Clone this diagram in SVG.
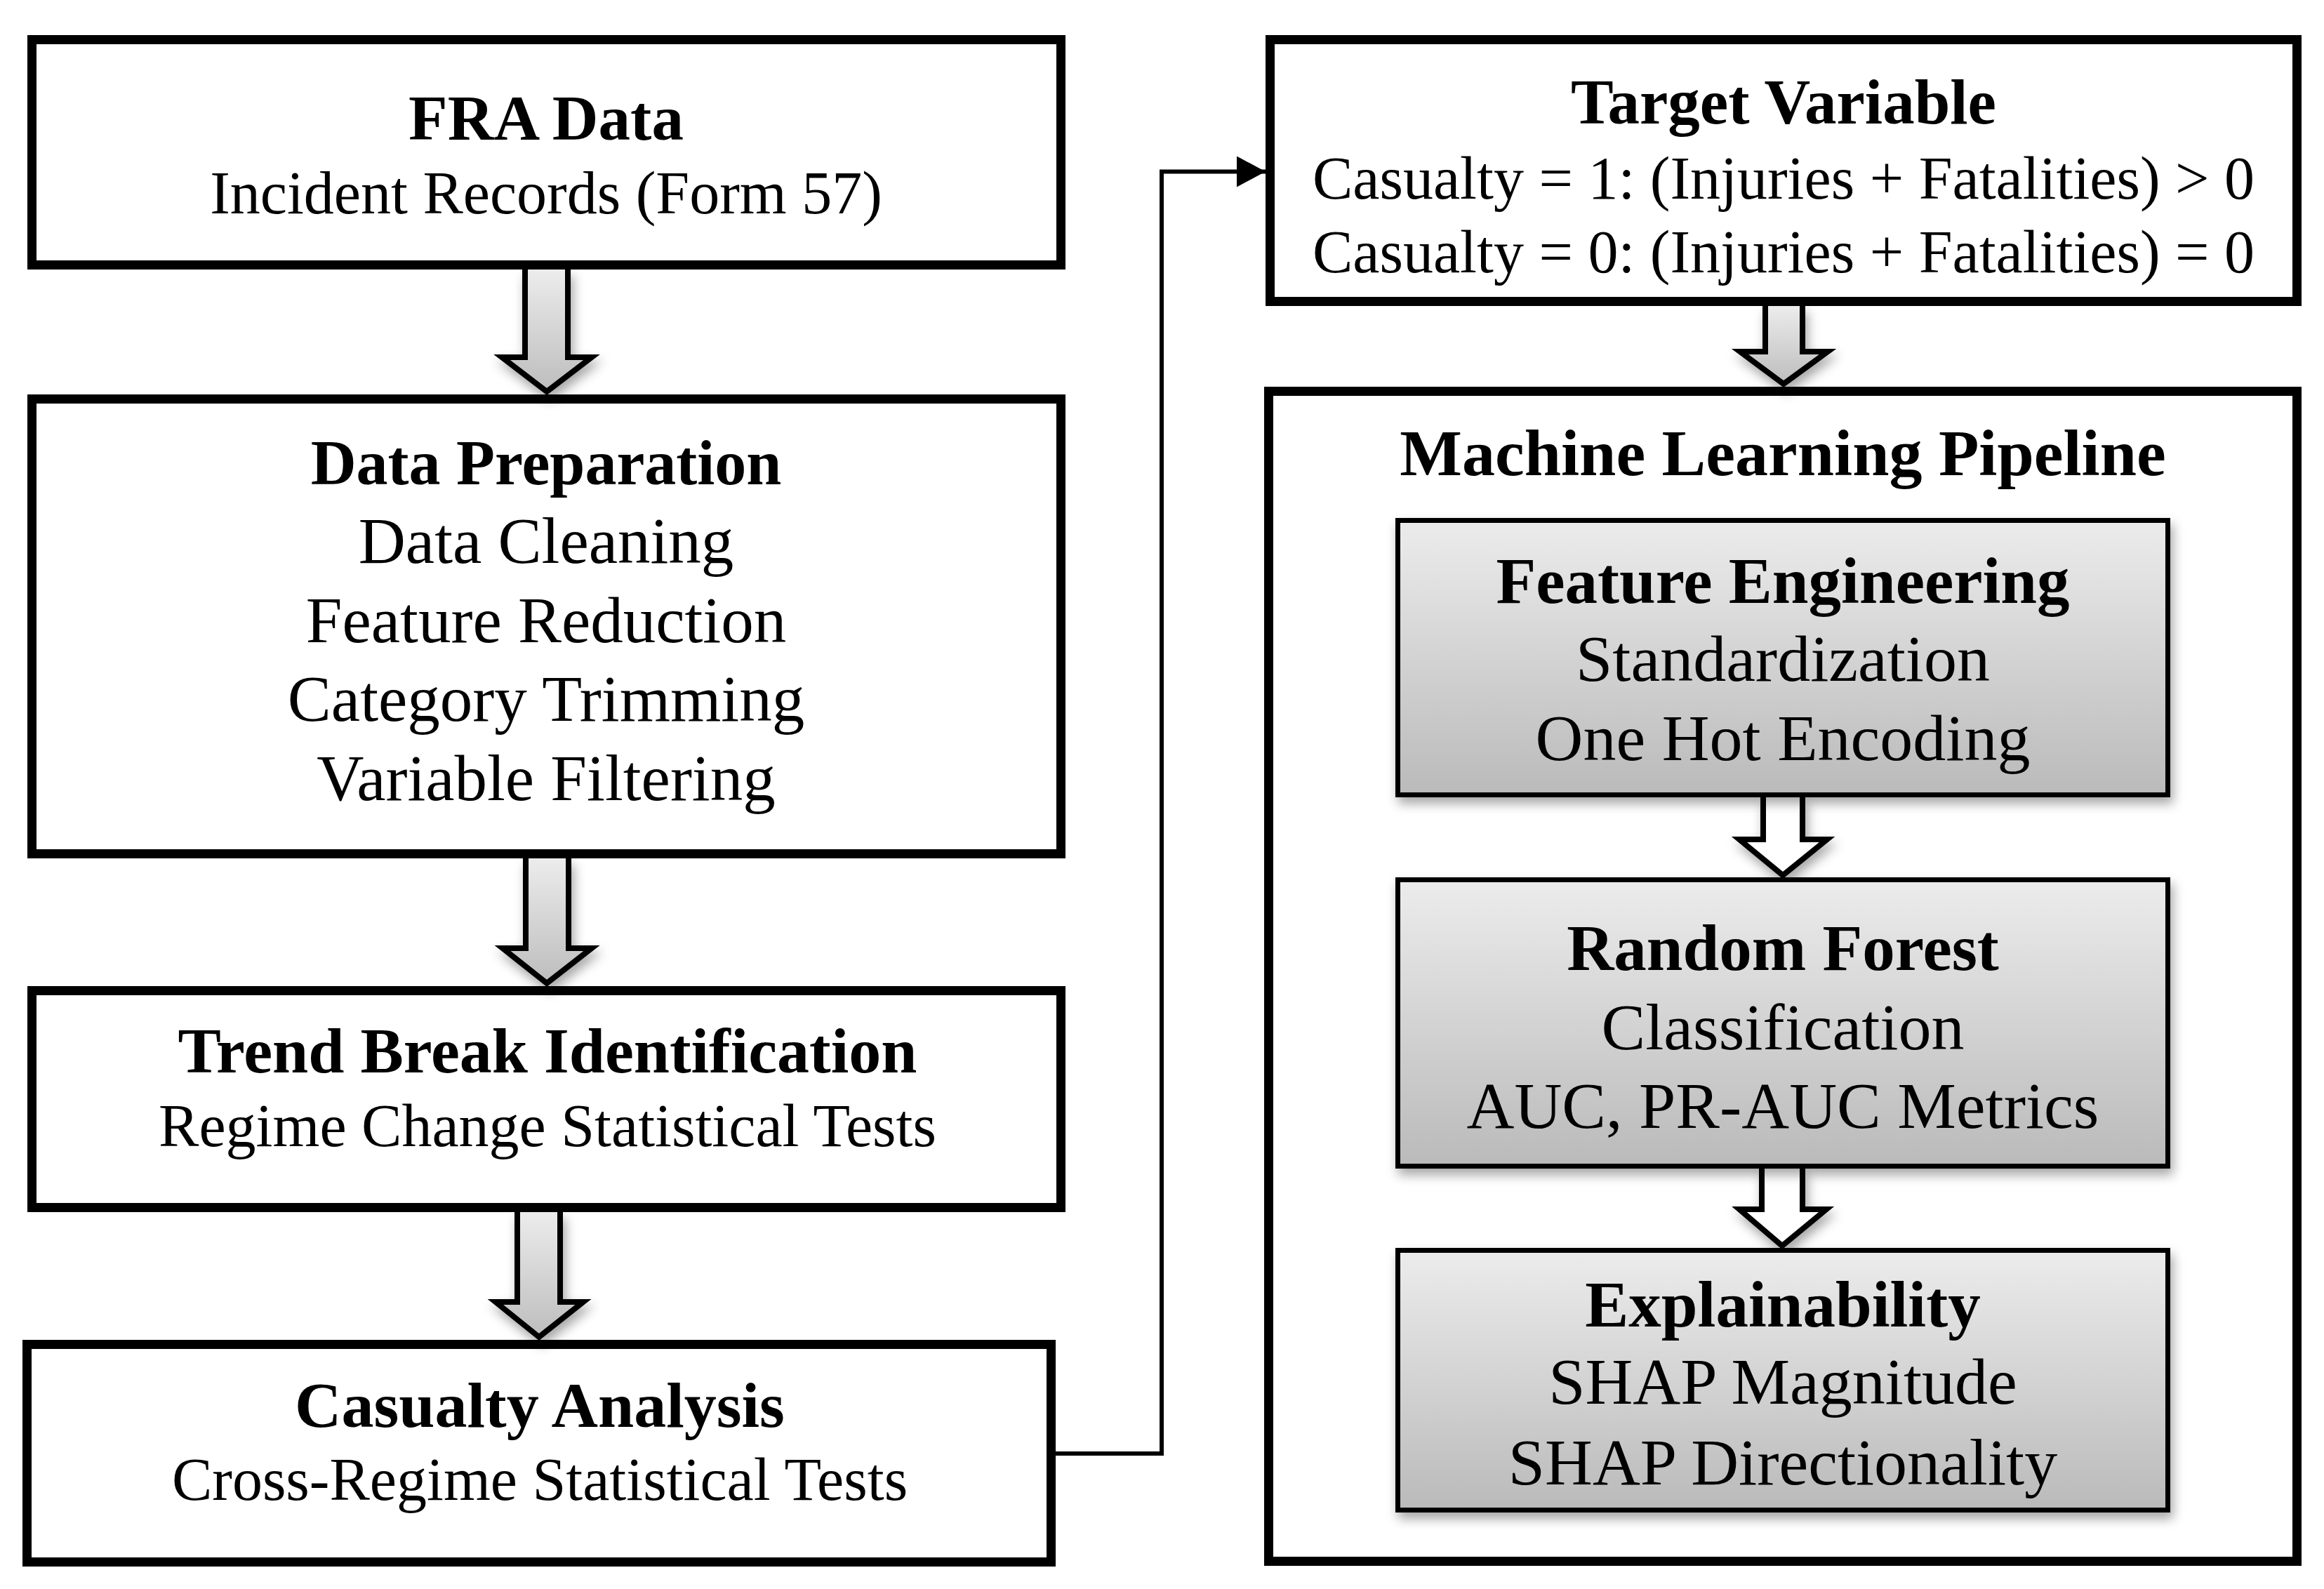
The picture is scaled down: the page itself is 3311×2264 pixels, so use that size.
<svg xmlns="http://www.w3.org/2000/svg" width="3311" height="2264" viewBox="0 0 3311 2264">
  <style>
    .box { fill: #ffffff; stroke: #000000; stroke-width: 13; }
    .sub { fill: url(#grayFill); stroke: #000000; stroke-width: 7; }
    .blk { fill: url(#arrowFill); stroke: #000000; stroke-width: 8; stroke-linejoin: miter; }
    .hol { fill: #ffffff; stroke: #000000; stroke-width: 8; stroke-linejoin: miter; }
    .link { fill: none; stroke: #000000; stroke-width: 6; }
    text { font-family: "Liberation Serif", "Times New Roman", serif; fill: #000000; text-anchor: middle; }
    .t { font-weight: bold; }
  </style>
  <defs>
    <linearGradient id="grayFill" x1="0" y1="0" x2="0" y2="1">
      <stop offset="0" stop-color="#ececec"/>
      <stop offset="1" stop-color="#bababa"/>
    </linearGradient>
    <linearGradient id="arrowFill" x1="0" y1="0" x2="0" y2="1">
      <stop offset="0" stop-color="#ececec"/>
      <stop offset="1" stop-color="#bdbdbd"/>
    </linearGradient>
    <filter id="shadow" x="-20%" y="-20%" width="140%" height="150%">
      <feDropShadow dx="4" dy="9" stdDeviation="8" flood-color="#000000" flood-opacity="0.35"/>
    </filter>
    <marker id="head" markerUnits="userSpaceOnUse" markerWidth="42" markerHeight="44" refX="41" refY="22" orient="auto">
      <path d="M0,0 L41,22 L0,44 Z" fill="#000000"/>
    </marker>
  </defs>

  <g id="fra-data">
    <rect class="box" x="45.5" y="56.5" width="1466" height="321"/>
    <text class="t" x="778" y="199" font-size="91">FRA Data</text>
    <text x="778" y="304" font-size="86">Incident Records (Form 57)</text>
  </g>

  <g id="data-preparation">
    <rect class="box" x="45.5" y="568.5" width="1466" height="648"/>
    <text class="t" x="778" y="690" font-size="90">Data Preparation</text>
    <text x="778" y="802" font-size="93">Data Cleaning</text>
    <text x="778" y="915" font-size="93">Feature Reduction</text>
    <text x="778" y="1027" font-size="93">Category Trimming</text>
    <text x="778" y="1140" font-size="93">Variable Filtering</text>
  </g>

  <g id="trend-break">
    <rect class="box" x="45.5" y="1411.5" width="1466" height="309"/>
    <text class="t" x="780" y="1528" font-size="92">Trend Break Identification</text>
    <text x="780" y="1633" font-size="86">Regime Change Statistical Tests</text>
  </g>

  <g id="casualty-analysis">
    <rect class="box" x="38.5" y="1915.5" width="1459" height="310"/>
    <text class="t" x="769" y="2033" font-size="92">Casualty Analysis</text>
    <text x="769" y="2137" font-size="86">Cross-Regime Statistical Tests</text>
  </g>

  <g id="target-variable">
    <rect class="box" x="1809.5" y="56.5" width="1463" height="373"/>
    <text class="t" x="2541" y="176" font-size="91">Target Variable</text>
    <text x="2541" y="283" font-size="86">Casualty = 1: (Injuries + Fatalities) &gt; 0</text>
    <text x="2541" y="388" font-size="86">Casualty = 0: (Injuries + Fatalities) = 0</text>
  </g>

  <g id="ml-pipeline">
    <rect class="box" x="1807.5" y="557.5" width="1465" height="1667"/>
    <text class="t" x="2540" y="677" font-size="94">Machine Learning Pipeline</text>
  </g>

  <!-- block arrows between stages, plus the elbow link -->
  <g id="connectors">
    <path class="blk" filter="url(#shadow)" d="M748,384 L748,509 L715,509 L779,558 L843,509 L809,509 L809,384"/>
    <path class="blk" filter="url(#shadow)" d="M749,1223 L749,1351 L716,1351 L779,1401 L843,1351 L810,1351 L810,1223"/>
    <path class="blk" filter="url(#shadow)" d="M737,1727 L737,1855 L706,1855 L768,1905 L831,1855 L798,1855 L798,1727"/>
    <path class="blk" filter="url(#shadow)" d="M2515,436 L2515,501 L2479,501 L2541,547 L2604,501 L2568,501 L2568,436"/>
    <path class="hol" filter="url(#shadow)" d="M2512,1136 L2512,1196 L2478,1196 L2540,1247 L2603,1196 L2568,1196 L2568,1136"/>
    <path class="hol" filter="url(#shadow)" d="M2510,1665 L2510,1723 L2478,1723 L2539,1775 L2602,1723 L2568,1723 L2568,1665"/>
    <!-- casualty analysis feeds the target definition -->
    <polyline class="link" points="1504,2071 1655,2071 1655,244.5 1803,244.5" marker-end="url(#head)"/>
  </g>

  <g id="feature-engineering">
    <rect class="sub" filter="url(#shadow)" x="1991.5" y="741.5" width="1097" height="391"/>
    <text class="t" x="2540" y="859" font-size="93">Feature Engineering</text>
    <text x="2540" y="970" font-size="94">Standardization</text>
    <text x="2540" y="1083" font-size="94">One Hot Encoding</text>
  </g>

  <g id="random-forest">
    <rect class="sub" filter="url(#shadow)" x="1991.5" y="1253.5" width="1097" height="408"/>
    <text class="t" x="2540" y="1382" font-size="93">Random Forest</text>
    <text x="2540" y="1495" font-size="94">Classification</text>
    <text x="2540" y="1607" font-size="94">AUC, PR-AUC Metrics</text>
  </g>

  <g id="explainability">
    <rect class="sub" filter="url(#shadow)" x="1991.5" y="1781.5" width="1097" height="370"/>
    <text class="t" x="2540" y="1890" font-size="93">Explainability</text>
    <text x="2540" y="2000" font-size="94">SHAP Magnitude</text>
    <text x="2540" y="2115" font-size="94">SHAP Directionality</text>
  </g>
</svg>
